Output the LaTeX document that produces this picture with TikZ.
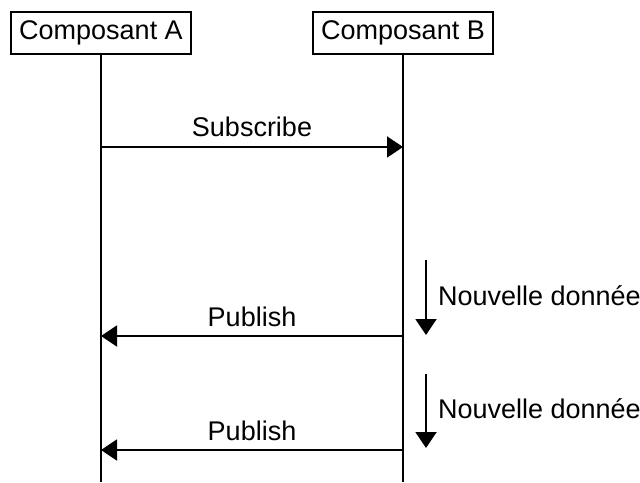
\documentclass[tikz,border=0pt]{standalone}
\usepackage{fontspec}
\setmainfont{Liberation Sans}
\usetikzlibrary{arrows.meta}

\begin{document}
\begin{tikzpicture}[x=0.5pt,y=0.5pt,line width=1pt,
  comp/.style={draw,minimum width=90pt,minimum height=21pt,inner sep=0pt,font=\fontsize{13.5}{16}\selectfont},
  msg/.style={-{Triangle[length=8pt,width=10.5pt]}},
  lbl/.style={font=\fontsize{13.5}{16}\selectfont,inner sep=0pt}]
\useasboundingbox (0,0) rectangle (640,482);
% components and lifelines
\node[comp] (compA) at (101,449) {Composant A};
\node[comp] (compB) at (403,449) {Composant B};
\coordinate (endA) at (101,0);
\coordinate (endB) at (403,0);
\draw (compA.south) -- (endA);
\draw (compB.south) -- (endB);
% subscribe
\coordinate (subA) at (101,335);
\coordinate (subB) at (403,335);
\draw[msg] (subA) -- (subB) node[midway,lbl,anchor=base,yshift=5pt] (subLbl) {Subscribe};
% first new data
\coordinate (newTop1) at (426,222);
\coordinate (newBot1) at (426,147);
\draw[msg] (newTop1) -- (newBot1);
\node[lbl,anchor=base west] (newLbl1) at (437,177) {Nouvelle donnée};
\coordinate (pubB1) at (403,146);
\coordinate (pubA1) at (101,146);
\draw[msg] (pubB1) -- (pubA1) node[midway,lbl,anchor=base,yshift=5pt] (pubLbl1) {Publish};
% second new data
\coordinate (newTop2) at (426,108);
\coordinate (newBot2) at (426,34);
\draw[msg] (newTop2) -- (newBot2);
\node[lbl,anchor=base west] (newLbl2) at (437,64) {Nouvelle donnée};
\coordinate (pubB2) at (403,32);
\coordinate (pubA2) at (101,32);
\draw[msg] (pubB2) -- (pubA2) node[midway,lbl,anchor=base,yshift=5pt] (pubLbl2) {Publish};
\end{tikzpicture}
\end{document}
